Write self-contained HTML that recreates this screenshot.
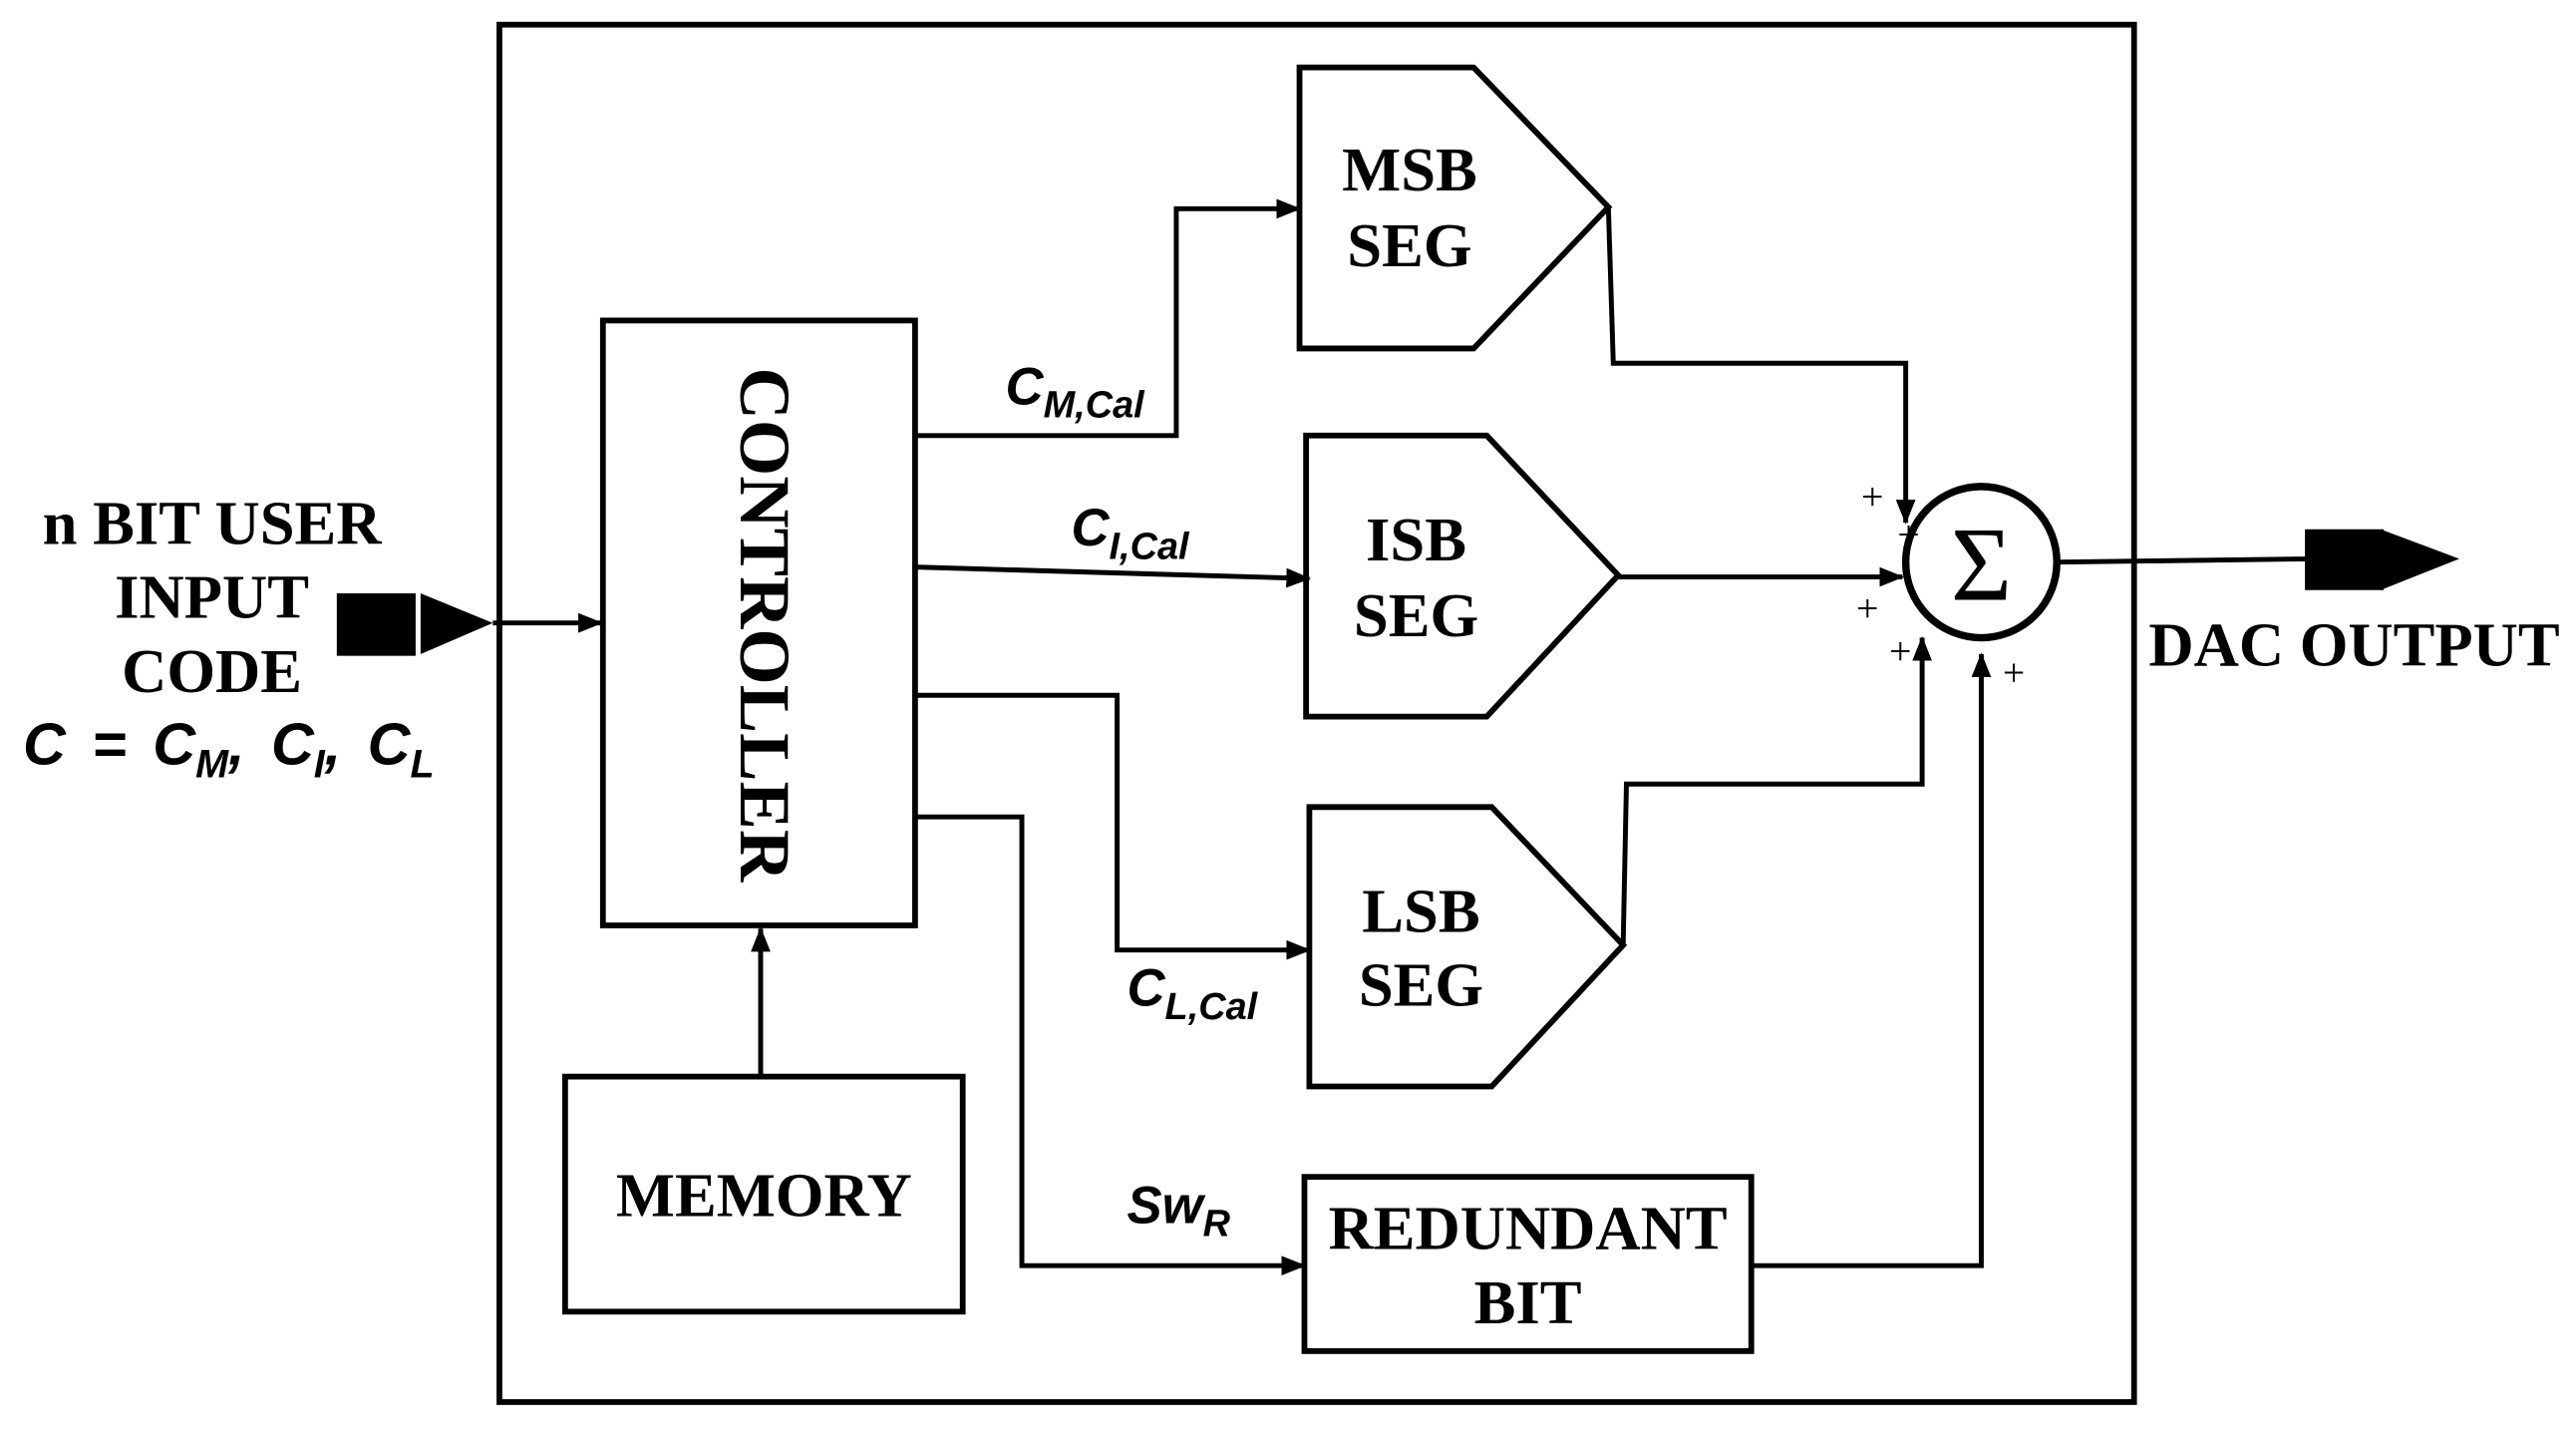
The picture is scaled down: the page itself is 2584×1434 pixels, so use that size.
<!DOCTYPE html>
<html><head><meta charset="utf-8"><style>
html,body{margin:0;padding:0;background:#fff}
svg{display:block}
text{font-family:"Liberation Serif",serif;font-weight:bold;fill:#000}
.it{font-style:italic;font-family:"Liberation Sans","DejaVu Sans",sans-serif}
</style></head><body>
<svg width="2584" height="1434" viewBox="0 0 1568 870" preserveAspectRatio="none" xmlns="http://www.w3.org/2000/svg">
<defs>
<marker id="a" markerWidth="16" markerHeight="14" refX="14" refY="7" orient="auto" markerUnits="userSpaceOnUse">
<path d="M0,1 L15,7 L0,13 z" fill="#000"/>
</marker>
</defs>
<g fill="none" stroke="#000" stroke-width="3.5">
<rect x="304" y="15" width="995" height="838"/>
<rect x="367" y="195" width="190" height="368"/>
<rect x="344" y="655" width="242" height="143"/>
<polygon points="791,41 897,41 979,126 897,212 791,212"/>
<polygon points="795,265 905,265 985,350 905,436 795,436"/>
<polygon points="797,491 908,491 988,575 908,661 797,661"/>
<rect x="794" y="716" width="272" height="106"/>
<circle cx="1206" cy="342" r="46" stroke-width="4.5"/>
</g>
<g fill="none" stroke="#000" stroke-width="3">
<line x1="463" y1="655" x2="463" y2="565" marker-end="url(#a)"/>
<polyline points="557,265 716,265 716,127 791,127" marker-end="url(#a)"/>
<polyline points="557,345 797,352" marker-end="url(#a)"/>
<polyline points="557,423 680,423 680,578 797,578" marker-end="url(#a)"/>
<polyline points="557,497 622,497 622,770 794,770" marker-end="url(#a)"/>
<polyline points="979,126 982,221 1160,221 1160,318" marker-end="url(#a)"/>
<polyline points="985,351 1158,351" marker-end="url(#a)"/>
<polyline points="988,575 990,477 1170,477 1170,388" marker-end="url(#a)"/>
<polyline points="1066,770 1206,770 1206,398" marker-end="url(#a)"/>
<line x1="1253" y1="342" x2="1405" y2="340"/>
<line x1="300" y1="379" x2="366" y2="379" marker-end="url(#a)"/>
</g>
<g fill="#000">
<rect x="205" y="361" width="48" height="38"/>
<polygon points="256,361 300,379 256,398"/>
<rect x="1403" y="322" width="48" height="37"/>
<polygon points="1449,322 1497,340 1449,359"/>
</g>
<g font-size="38" text-anchor="middle">
<text x="858" y="116">MSB</text><text x="858" y="162">SEG</text>
<text x="862" y="341">ISB</text><text x="862" y="387">SEG</text>
<text x="865" y="567">LSB</text><text x="865" y="612">SEG</text>
<text x="930" y="760">REDUNDANT</text><text x="930" y="805">BIT</text>
<text x="465" y="740">MEMORY</text>
<text x="129" y="331">n BIT USER</text>
<text x="129" y="376">INPUT</text>
<text x="129" y="421">CODE</text>
<text x="1433" y="405">DAC OUTPUT</text>
<text transform="translate(451,380) rotate(90)" font-size="44">CONTROLLER</text>
<text x="1206" y="365" font-size="64" style="font-weight:normal">Σ</text>
</g>
<g font-size="24">
<text x="1133" y="310" style="font-weight:normal">+</text>
<text x="1155" y="333" style="font-weight:normal">+</text>
<text x="1130" y="378" style="font-weight:normal">+</text>
<text x="1150" y="404" style="font-weight:normal">+</text>
<text x="1219" y="417" style="font-weight:normal">+</text>
</g>
<g class="it">
<text x="612" y="246" font-size="32" class="it">C<tspan font-size="23" dy="8">M,Cal</tspan></text>
<text x="652" y="332" font-size="32" class="it">C<tspan font-size="23" dy="8">I,Cal</tspan></text>
<text x="686" y="612" font-size="32" class="it">C<tspan font-size="23" dy="8">L,Cal</tspan></text>
<text x="686" y="744" font-size="32" class="it">Sw<tspan font-size="23" dy="8">R</tspan></text>
<text x="14" y="465" font-size="36" class="it" word-spacing="6">C = C<tspan font-size="24" dy="8">M</tspan><tspan dy="-8">, C</tspan><tspan font-size="24" dy="8">I</tspan><tspan dy="-8">, C</tspan><tspan font-size="24" dy="8">L</tspan></text>
</g>
</svg>
</body></html>
